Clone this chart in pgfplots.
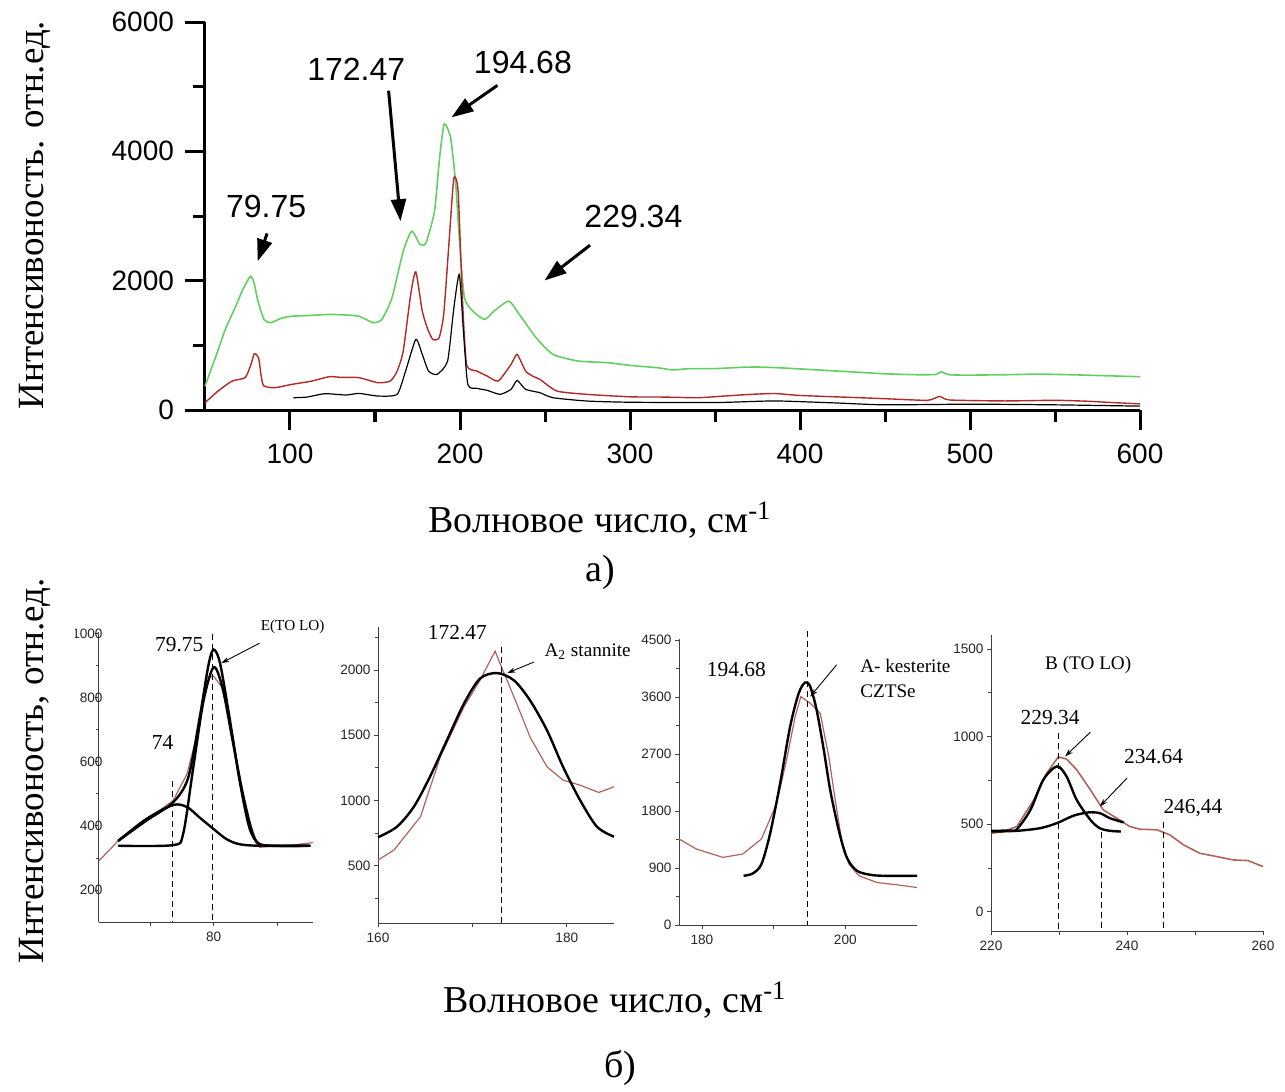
\documentclass[border=0pt]{standalone}
\usepackage{fontspec}
\setmainfont{Liberation Serif}
\setsansfont{Liberation Sans}
\usepackage{pgfplots}
\pgfplotsset{compat=1.18}
\usetikzlibrary{arrows.meta}
\definecolor{specgreen}{HTML}{62CF62}
\definecolor{specred}{HTML}{B02A2A}
\definecolor{fitred}{HTML}{B0625C}

\pgfplotsset{
  numfmt/.style={/pgf/number format/assume math mode=true,/pgf/number format/1000 sep={},scaled ticks=false},
  panel/.style={scale only axis,numfmt,clip=false,
    axis x line*=bottom,axis y line*=left,
    axis line style={-,draw=black!75,line width=0.5pt},
    tick align=outside,major tick length=2.2pt,minor tick length=1.5pt,
    every tick/.style={draw=black!75,line width=0.4pt},
    ticklabel style={font=\sffamily\fontsize{6.8}{7}\selectfont,text=black!85},
    yticklabel style={xshift=2pt},xticklabel style={yshift=0.5pt}},
  fitline/.style={black,line width=1.2pt,smooth},
  rawline/.style={fitred,line width=0.6pt},
  spec/.style={smooth,tension=0.35},
}
\tikzset{
  vmark/.style={densely dashed,line width=0.45pt,black},
  bigarr/.style={-{Triangle[length=11pt,width=7.5pt]},line width=1.5pt},
  tarr/.style={-{Stealth[length=4pt,width=2.6pt]},line width=0.45pt},
  pk/.style={font=\fontsize{10.7}{12}\selectfont},
  lb/.style={font=\fontsize{9.6}{11}\selectfont},
}

\begin{document}
\begin{tikzpicture}
\path[use as bounding box] (0,0) rectangle (642.5pt,-546pt);

% ---- top spectrum ----
\begin{axis}[at={(102.5pt,-205pt)},anchor=south west,scale only axis,
  width=467.5pt,height=194pt,numfmt,
  xmin=50,xmax=600,ymin=0,ymax=6000,
  axis x line*=bottom,axis y line*=left,
  axis line style={-,line width=1.5pt},
  xtick={100,200,300,400,500,600},minor xtick={150,250,350,450,550},
  ytick={0,2000,4000,6000},minor ytick={1000,3000,5000},
  tick align=outside,major tick length=10pt,minor tick length=6pt,
  every tick/.style={black,line width=1.5pt},
  ticklabel style={font=\sffamily\fontsize{14}{16}\selectfont},
  yticklabel style={xshift=-2pt},xticklabel style={yshift=-3.5pt},
  clip=false]
\addplot[spec,specgreen,line width=0.8pt] coordinates {
(50,371)(56,800)(62,1250)(68,1600)(72,1850)(76.8,2070)(79,1950)(81,1700)(84.7,1400)(88.5,1350)
(95,1420)(100.9,1450)(110,1460)(123,1478)(132,1470)(140.6,1450)(149,1350)(154,1400)(160,1735)
(166.6,2456)(171.6,2765)(176.5,2560)(180,2585)(185,3074)(188,3900)(190.7,4423)(194.5,4207)
(197.5,3486)(200,2500)(202.6,1735)(207.5,1530)(214.5,1400)(220,1530)(228.7,1684)(234.9,1478)
(244.8,1117)(254.7,860)(269.6,757)(287,731)(300,690)(316,654)(325,620)(335,640)(350,640)
(365,660)(375,665)(390,650)(410,620)(430,590)(450,560)(470,545)(480,550)(483,590)(488,545)
(500,540)(520,545)(540,555)(560,545)(580,530)(600,515)};
\addplot[spec,specred,line width=0.7pt] coordinates {
(50,113)(58,300)(66,448)(73.6,500)(77,700)(79,870)(81.5,808)(83.2,500)(84.7,371)(91,345)
(101,396)(113,448)(123,515)(130,505)(140.6,500)(151.7,422)(159,448)(163,600)(166.6,911)
(171,1787)(174,2137)(177.8,1530)(181,1250)(184,1092)(187.7,1117)(190.5,1500)(194,2765)
(196.4,3590)(198.9,3383)(201.4,1735)(203.9,705)(210,602)(216,525)(222.5,448)(230,705)
(233.6,860)(238.6,602)(243,520)(247,474)(257,293)(274.6,242)(300,204)(320,200)(340,190)
(355,215)(370,240)(385,255)(400,225)(430,195)(450,175)(475,150)(482,210)(488,155)(520,140)
(550,150)(570,135)(580,120)(600,95)};
\addplot[spec,black,line width=0.6pt] coordinates {
(102,190)(110,200)(120.6,252)(133,232)(140.6,257)(151.7,216)(163,242)(168,602)(174,1092)
(177.8,860)(181.5,602)(186.5,551)(192.7,757)(196.4,1581)(199.6,2096)(202,1220)(204.6,396)
(210,335)(216,304)(223.6,242)(230,319)(233.6,458)(238.6,319)(247,268)(254.7,190)(274.6,139)
(300,120)(350,115)(385,140)(420,110)(450,80)(500,90)(550,80)(600,60)};
\begin{scope}[font=\sffamily\fontsize{16}{18}\selectfont]
\node at (axis cs:86,3150) {79.75};
\node at (axis cs:139,5270) {172.47};
\node at (axis cs:237,5370) {194.68};
\node at (axis cs:302,3000) {229.34};
\end{scope}
\draw[bigarr] (axis cs:86.5,2730) -- (axis cs:81,2300);
\draw[bigarr] (axis cs:158,4938) -- (axis cs:165,2920);
\draw[bigarr] (axis cs:222,5020) -- (axis cs:195,4526);
\draw[bigarr] (axis cs:276.5,2549) -- (axis cs:249.7,2003);
\end{axis}

\node[rotate=90,font=\fontsize{18.5}{20}\selectfont] at (17.5pt,-107.5pt) {Интенсивоность. отн.ед.};
\node[font=\fontsize{19}{21}\selectfont] at (300pt,-260pt) {Волновое число, см\textsuperscript{-1}};
\node[font=\fontsize{19}{21}\selectfont] at (300pt,-286pt) {а)};

% ---- panel 1 ----
\begin{scope}
\clip (37.5pt,-300pt) rectangle (165pt,-480pt);
\begin{axis}[panel,at={(49.5pt,-461pt)},anchor=south west,width=107pt,height=145pt,
  xmin=71,xmax=87.8,ymin=100,ymax=1005,
  yticklabel style={xshift=5.5pt},
  xtick={75,80,85},xticklabels={,80,},
  ytick={200,400,600,800,1000},minor ytick={300,500,700,900}]
\addplot[rawline] coordinates {(71,291)(72.5,353)(74.2,405)(76.8,478)(77.9,561)(78.9,716)(79.4,861)
(80,867)(80.7,830)(81.5,685)(82.3,478)(83.1,364)(83.6,333)(84.6,338)(86.2,340)(87.8,348)};
\addplot[fitline] coordinates {(72.5,353)(74.7,416)(76.8,473)(78,550)(78.9,737)(79.6,903)(80,950)
(80.5,908)(81.25,737)(82,550)(82.8,395)(83.6,343)(84.9,338)(87.6,338)};
\addplot[fitline] coordinates {(72.5,338)(76.8,340)(77.6,374)(78.4,582)(79.2,789)(80,895)(80.7,830)
(81.5,664)(82.3,499)(83.1,374)(83.9,340)(87.6,338)};
\addplot[fitline] coordinates {(72.5,353)(74.7,421)(76.8,465)(77.9,459)(78.9,426)(80,390)(81,359)
(82,343)(83.6,338)(87.6,338)};
\draw[vmark] (axis cs:76.8,540) -- (axis cs:76.8,100);
\draw[vmark] (axis cs:79.9,1000) -- (axis cs:79.9,100);
\node[pk] at (axis cs:77.3,965) {79.75};
\node[pk] at (axis cs:76,659) {74};
\node[font=\fontsize{7.6}{9}\selectfont] at (axis cs:86.2,1022) {E(TO LO)};
\draw[tarr] (axis cs:83.6,970) -- (axis cs:80.6,908);
\end{axis}
\end{scope}

% ---- panel 2 ----
\begin{axis}[panel,at={(189pt,-461.5pt)},anchor=south west,width=118pt,height=148pt,
  xmin=160,xmax=185,ymin=60,ymax=2330,
  xtick={160,170,180},xticklabels={160,,180},
  ytick={500,1000,1500,2000},minor ytick={250,750,1250,1750,2250}]
\addplot[rawline] coordinates {(160,543)(161.7,620)(164.5,875)(166.6,1334)(169.1,1717)(170.8,1921)
(172.4,2145)(173.3,1985)(174.7,1742)(176.1,1487)(177.9,1258)(179.6,1156)(181.4,1117)(183.4,1061)(185,1105)};
\addplot[fitline] coordinates {(160,717)(162,798)(163.8,952)(165.5,1181)(167.3,1462)(169.1,1742)
(170.8,1934)(172.6,1977)(174.4,1921)(176.1,1768)(177.9,1538)(179.6,1258)(181.4,1003)(183.2,798)(185,722)};
\draw[vmark] (axis cs:173.1,2176) -- (axis cs:173.1,60);
\node[pk] at (axis cs:168.4,2290) {172.47};
\node[lb,anchor=west] at (axis cs:176.9,2138) {A\textsubscript{2} stannite};
\draw[tarr] (axis cs:176.5,2061) -- (axis cs:173.7,1977);
\end{axis}

% ---- panel 3 ----
\begin{axis}[panel,at={(339.5pt,-462.5pt)},anchor=south west,width=119pt,height=143pt,
  xmin=176.8,xmax=210,ymin=0,ymax=4520,
  xtick={180,190,200},xticklabels={180,,200},
  ytick={0,900,1800,2700,3600,4500},minor ytick={450,1350,2250,3150,4050}]
\addplot[rawline] coordinates {(176.8,1360)(179.2,1202)(182.9,1069)(185.7,1122)(188.3,1360)(190.4,1916)
(191.8,2605)(193,3293)(193.8,3610)(195.1,3504)(196.5,3346)(197.7,2657)(198.6,1969)(199.5,1334)
(200.5,963)(201.9,778)(204.4,672)(207.2,635)(210,593)};
\addplot[fitline] coordinates {(185.8,778)(187.1,815)(188.3,963)(189.5,1440)(190.9,2234)(192.3,3134)
(193.5,3663)(194.4,3833)(195.1,3769)(196,3399)(197,2763)(197.9,2128)(199.1,1493)(200.2,1069)
(201.6,858)(203.5,794)(205.4,778)(210,778)};
\draw[vmark] (axis cs:194.7,4640) -- (axis cs:194.7,0);
\node[pk] at (axis cs:184.8,4034) {194.68};
\node[lb,anchor=west] at (axis cs:201.1,4087) {A- kesterite};
\node[lb,anchor=west] at (axis cs:201.1,3690) {CZTSe};
\draw[tarr] (axis cs:198.8,4113) -- (axis cs:195.1,3610);
\end{axis}

% ---- panel 4 ----
\begin{axis}[panel,at={(495.5pt,-465.5pt)},anchor=south west,width=136pt,height=148pt,
  xmin=220,xmax=260,ymin=-110,ymax=1580,
  xtick={220,230,240,250,260},xticklabels={220,,240,,260},
  ytick={0,500,1000,1500},minor ytick={250,750,1250}]
\addplot[rawline,line width=0.8pt] coordinates {(220,448)(221.9,458)(223.8,487)(226.3,639)(228.2,792)
(229.9,884)(231.1,872)(232.6,811)(234.6,697)(236.5,582)(238.5,534)(240.4,487)(241.9,471)
(244.4,468)(246.3,439)(248.3,382)(250.7,334)(253.2,315)(255.6,296)(257.8,292)(260,258)};
\addplot[fitline] coordinates {(220,462)(222.8,464)(223.8,471)(225.8,582)(227.7,754)(229.7,830)
(231.1,773)(232.6,639)(234.6,525)(236,477)(237.5,462)(239.1,458)};
\addplot[fitline] coordinates {(220,458)(223.8,462)(227.2,477)(229.7,506)(232.1,548)(234.3,567)
(236,563)(237.5,534)(239.5,510)};
\draw[vmark] (axis cs:229.9,1021) -- (axis cs:229.9,-110);
\draw[vmark] (axis cs:236.3,458) -- (axis cs:236.3,-110);
\draw[vmark] (axis cs:245.3,515) -- (axis cs:245.3,-110);
\node[lb] at (axis cs:234.3,1412) {B (TO LO)};
\node[pk] at (axis cs:228.7,1107) {229.34};
\node[pk] at (axis cs:243.9,887) {234.64};
\node[pk] at (axis cs:249.7,592) {246,44};
\draw[tarr] (axis cs:234.6,1025) -- (axis cs:230.9,887);
\draw[tarr] (axis cs:240,763) -- (axis cs:236,601);
\end{axis}

\node[rotate=90,font=\fontsize{18.5}{20}\selectfont] at (17.5pt,-385.5pt) {Интенсивоность, отн.ед.};
\node[font=\fontsize{19}{21}\selectfont] at (307.5pt,-500pt) {Волновое число, см\textsuperscript{-1}};
\node[font=\fontsize{19}{21}\selectfont] at (310pt,-534pt) {б)};
\end{tikzpicture}
\end{document}
